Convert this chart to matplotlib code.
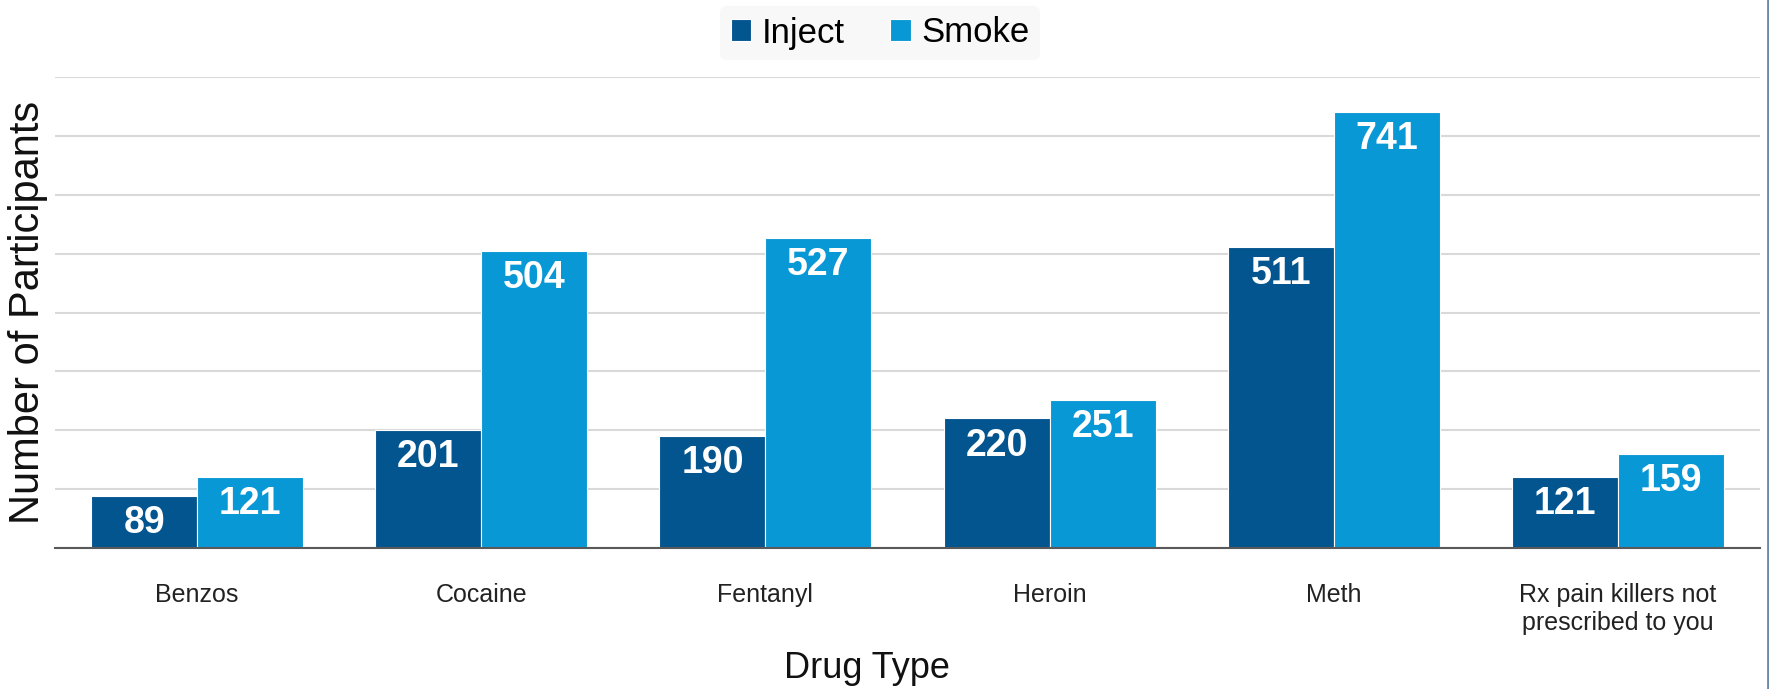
import matplotlib.pyplot as plt
import numpy as np

drugs = ['Benzos', 'Cocaine', 'Fentanyl', 'Heroin', 'Meth',
         'Rx pain killers not\nprescribed to you']
inject = [89, 201, 190, 220, 511, 121]
smoke = [121, 504, 527, 251, 741, 159]

plt.rcParams['font.family'] = ['Liberation Sans', 'DejaVu Sans']

fig = plt.figure(figsize=(17.69, 6.89), dpi=100)
ax = fig.add_axes([55/1769, 1-548/689, (1760-55)/1769, (548-77)/689])

x = np.arange(len(drugs))
w = 0.373
c_inj = '#03558f'
c_smk = '#0998d6'

b1 = ax.bar(x - w/2, inject, w, color=c_inj, edgecolor='white', linewidth=0.8, label='Inject', zorder=3)
b2 = ax.bar(x + w/2, smoke, w, color=c_smk, edgecolor='white', linewidth=0.8, label='Smoke', zorder=3)

for bars in (b1, b2):
    for b in bars:
        ax.annotate(str(int(b.get_height())), (b.get_x() + b.get_width()/2, b.get_height()),
                    xytext=(0, -19.5), textcoords='offset points', ha='center', va='center',
                    color='white', fontsize=27, fontweight='bold', zorder=4)

ax.set_xlim(-0.5, len(drugs) - 0.5)
ax.set_ylim(0, 800)
ax.set_yticks(np.arange(0, 801, 100))
ax.yaxis.grid(True, color='#d9d9d9', linewidth=1.5, zorder=0)
ax.tick_params(axis='y', left=False, labelleft=False)
ax.tick_params(axis='x', bottom=False, labelsize=18, colors='#222222', pad=22)
ax.set_xticks(x)
ax.set_xticklabels(drugs)
for s in ['top', 'right', 'left']:
    ax.spines[s].set_visible(False)
ax.spines['bottom'].set_color('#595959')
ax.spines['bottom'].set_linewidth(1.5)
ax.spines['bottom'].set_zorder(5)

leg = fig.legend(loc='center', bbox_to_anchor=(880/1769, 1-33/689), ncol=2, frameon=True,
                 fontsize=25, handlelength=0.6, handleheight=0.6, handletextpad=0.3,
                 columnspacing=1.3, borderpad=0.3)
leg.get_frame().set_facecolor('#f7f7f7')
leg.get_frame().set_edgecolor('none')

fig.text(28/1769, 1-312/689, 'Number of Participants', rotation=90, ha='center', va='center',
         fontsize=30, color='#111111')
fig.text(867/1769, 1-668/689, 'Drug Type', ha='center', va='center', fontsize=26, color='#111111')

fig.add_artist(plt.Line2D([1767.5/1769, 1767.5/1769], [0, 1], color='#6a8aa8', linewidth=2))

fig.savefig('out.png', dpi=100)
